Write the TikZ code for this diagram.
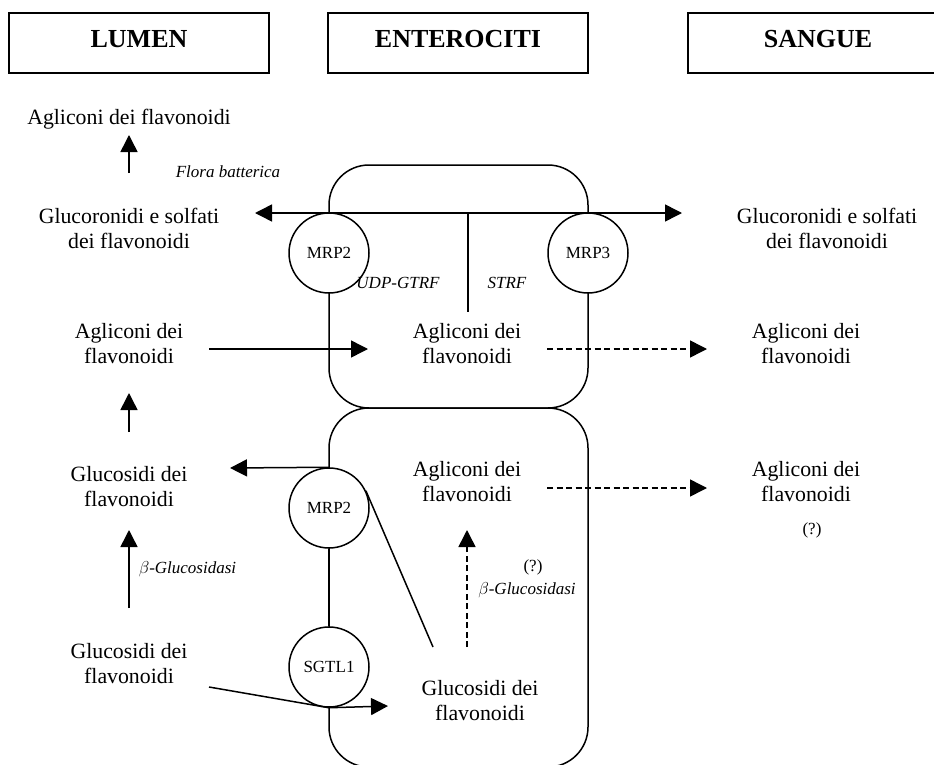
\documentclass[tikz,border=0pt]{standalone}
\usepackage{fontspec}
\setmainfont{Liberation Serif}
\usetikzlibrary{arrows.meta}
\begin{document}
\begin{tikzpicture}[x=1pt,y=-1pt,
  line width=1.5pt,
  tip/.tip={Triangle[length=17pt,width=17pt]},
  arr/.style={-tip},
  dsh/.style={dash pattern=on 6pt off 3.5pt},
  head/.style={draw,minimum width=260pt,minimum height=60pt,inner sep=0pt,
    font=\fontsize{26}{30}\selectfont\bfseries,text height=18pt,text depth=8pt},
  txt/.style={align=center,inner sep=0pt,font=\fontsize{21.8}{25}\selectfont},
  lbl/.style={inner sep=0pt,font=\fontsize{17}{20}\selectfont\itshape},
  note/.style={inner sep=0pt,font=\fontsize{17}{20}\selectfont},
  prot/.style={circle,draw,fill=white,minimum size=80pt,inner sep=0pt,
    font=\fontsize{17}{20}\selectfont},
]
\useasboundingbox (0,0) rectangle (934,765);

% column headings
\node[head] (lumen)  at (139,43) {LUMEN};
\node[head] (entero) at (458,43) {ENTEROCITI};
\node[head] (sangue) at (818,43) {SANGUE};

% the two enterocytes
\draw[rounded corners=40pt] (329,165) rectangle (588,408);
\draw[rounded corners=40pt] (329,408) rectangle (588,767);

% transporters on the membranes
\node[prot] (mrpA) at (329,253) {MRP2};
\node[prot] (mrpB) at (588,253) {MRP3};
\node[prot] (mrpC) at (329,508) {MRP2};
\node[prot] (sgtl) at (329,667) {SGTL1};

% metabolites
\node[txt] (aglTop) at (129,119) {Agliconi dei flavonoidi};
\node[txt] (glucL)  at (129,228) {Glucoronidi e solfati\\dei flavonoidi};
\node[txt] (glucR)  at (827,228) {Glucoronidi e solfati\\dei flavonoidi};
\node[txt] (aglL1)  at (129,344) {Agliconi dei\\flavonoidi};
\node[txt] (aglC1)  at (467,344) {Agliconi dei\\flavonoidi};
\node[txt] (aglR1)  at (806,344) {Agliconi dei\\flavonoidi};
\node[txt] (glcL1)  at (129,487) {Glucosidi dei\\flavonoidi};
\node[txt] (aglC2)  at (467,482) {Agliconi dei\\flavonoidi};
\node[txt] (aglR2)  at (806,482) {Agliconi dei\\flavonoidi};
\node[txt] (glcL2)  at (129,664) {Glucosidi dei\\flavonoidi};
\node[txt] (glcC)   at (480,701) {Glucosidi dei\\flavonoidi};

% enzymes and remarks
\node[lbl] (flora) at (228,172) {Flora batterica};
\node[lbl] (udp)   at (398,283) {UDP-GTRF};
\node[lbl] (strf)  at (507,283) {STRF};
\node[lbl,anchor=west] (betaL) at (138,569) {$\beta$-Glucosidasi};
\node[note] (qC)   at (533,567) {(?)};
\node[lbl] (betaC) at (527,590) {$\beta$-Glucosidasi};
\node[note] (qR)   at (812,530) {(?)};

% connector ends
\coordinate (topUp)   at (129,173);
\coordinate (topTip)  at (129,135);
\coordinate (hLeft)   at (255,213);
\coordinate (hRight)  at (682,213);
\coordinate (hMid)    at (468,213);
\coordinate (hDown)   at (468,312);
\coordinate (inA)     at (209,349);
\coordinate (inAtip)  at (368,349);
\coordinate (outA)    at (547,349);
\coordinate (outAtip) at (707,349);
\coordinate (midUp)   at (129,432);
\coordinate (midTip)  at (129,393);
\coordinate (effTip)  at (230,468);
\coordinate (lowUp)   at (129,608);
\coordinate (lowTip)  at (129,530);
\coordinate (inG)     at (209,687);
\coordinate (inGtip)  at (388,706);
\coordinate (diagEnd) at (433,647);
\coordinate (hydUp)   at (467,647);
\coordinate (hydTip)  at (467,530);
\coordinate (outB)    at (547,488);
\coordinate (outBtip) at (707,488);

% pathways
\draw[arr] (topUp) -- (topTip);
\draw[tip-tip] (hLeft) -- (hRight);
\draw (hMid) -- (hDown);
\draw[arr] (inA) -- (inAtip);
\draw[arr,dsh] (outA) -- (outAtip);
\draw[arr] (midUp) -- (midTip);
\draw[arr] (mrpC.north) -- (effTip);
\draw[arr] (lowUp) -- (lowTip);
\draw (mrpC.south) -- (sgtl.north);
\draw[arr] (inG) -- (sgtl.south) -- (inGtip);
\draw (mrpC.25) -- (diagEnd);
\draw[arr,dsh] (hydUp) -- (hydTip);
\draw[arr,dsh] (outB) -- (outBtip);
\end{tikzpicture}
\end{document}
